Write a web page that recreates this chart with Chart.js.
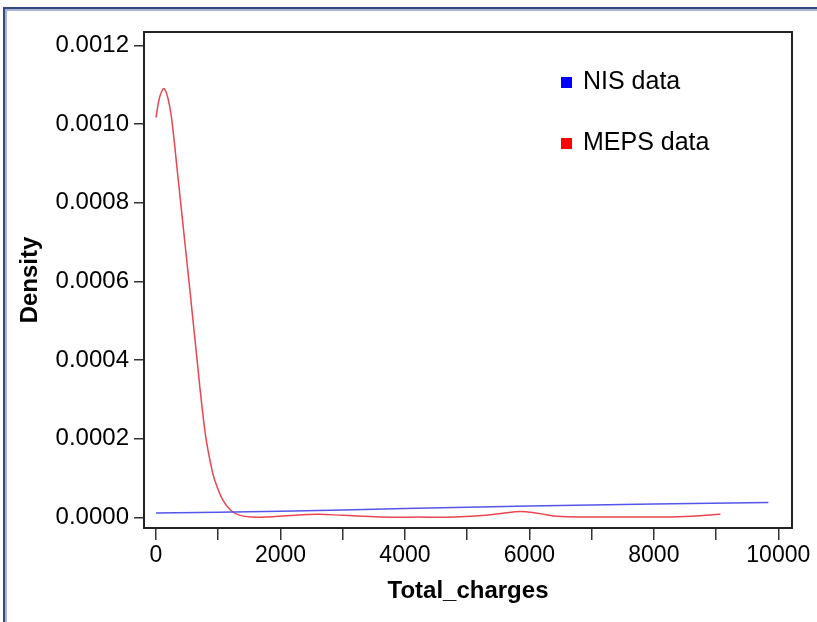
<!DOCTYPE html>
<html>
<head>
<meta charset="utf-8">
<script src="https://cdn.jsdelivr.net/npm/chart.js@4/dist/chart.umd.min.js"></script>
<style>
  html, body { margin: 0; padding: 0; background: #fff; }
  #wrap { position: relative; width: 817px; height: 622px; overflow: hidden; }
  #frame { position: absolute; left: 3px; top: 7px; width: 830px; height: 640px;
           border-top: 2px solid #34497f; border-left: 2px solid #34497f; }
  #frame2 { position: absolute; left: 0; top: 0; right: 0; bottom: 0;
            border-top: 2px solid #a7b4d2; border-left: 2px solid #a7b4d2; }
  #chart { position: absolute; left: 0; top: 0; }
</style>
</head>
<body>
<div id="wrap">
  <div id="frame"><div id="frame2"></div></div>
  <canvas id="chart" width="817" height="622"></canvas>
</div>
<script>
// данные
const nisX = [0, 2000, 4000, 6000, 8000, 9840];
const nisY = [0.0000110, 0.0000153, 0.0000222, 0.0000288, 0.0000339, 0.0000375];

const mepsX = [0, 60, 133, 220, 280, 333, 400, 455, 520, 574, 654, 719, 799, 880, 949, 1077,
               1200, 1350, 1550, 1800, 2100, 2600, 3000, 3600, 4200, 4800, 5300, 5600, 5850,
               6100, 6450, 7000, 7600, 8150, 8600, 9070];
const mepsY = [0.001017, 0.001070, 0.001090, 0.001045, 0.000975, 0.000895, 0.000795, 0.000712,
               0.000615, 0.000532, 0.000410, 0.000310, 0.000205, 0.000135, 0.000092, 0.000043,
               0.000018, 0.000005, 0.0000005, 0.000001, 0.000004, 0.0000075, 0.000005,
               0.000001, 0.0000005, 0.000001, 0.000005, 0.000011, 0.0000145, 0.000011,
               0.0000025, 0.000001, 0.0000005, 0.000001, 0.000003, 0.0000075];

const xTicks = [0, 1000, 2000, 3000, 4000, 5000, 6000, 7000, 8000, 9000, 10000];
const yTicks = [0, 0.0002, 0.0004, 0.0006, 0.0008, 0.0010, 0.0012];

const seriesNames = ["NIS data", "MEPS data"];
const legendColors = ["#0000ff", "#ff0000"];

function toPoints(xs, ys) {
  return xs.map((x, i) => ({ x: x, y: ys[i] }));
}

// рамка графика и легенда внутри области
const boxAndLegend = {
  id: "boxAndLegend",
  afterDraw(chart) {
    const { ctx, chartArea } = chart;
    ctx.save();
    ctx.strokeStyle = "#222";
    ctx.lineWidth = 2;
    ctx.strokeRect(chartArea.left, chartArea.top,
                   chartArea.right - chartArea.left, chartArea.bottom - chartArea.top);

    ctx.font = "25px 'Liberation Sans', Arial, sans-serif";
    ctx.textBaseline = "alphabetic";
    ctx.textAlign = "left";
    seriesNames.forEach((name, i) => {
      ctx.fillStyle = legendColors[i];
      ctx.fillRect(561, 77 + 61 * i, 11, 11);
      ctx.fillStyle = "#000";
      ctx.fillText(name, 583, 89 + 61 * i);
    });
    ctx.restore();
  }
};

new Chart(document.getElementById("chart"), {
  type: "line",
  data: {
    datasets: [
      {
        label: seriesNames[0],
        data: toPoints(nisX, nisY),
        borderColor: "rgb(85,85,235)",
        borderWidth: 1.5,
        pointRadius: 0,
        tension: 0.3,
        fill: false
      },
      {
        label: seriesNames[1],
        data: toPoints(mepsX, mepsY),
        borderColor: "rgb(232,70,80)",
        borderWidth: 1.5,
        pointRadius: 0,
        tension: 0.4,
        fill: false
      }
    ]
  },
  options: {
    responsive: false,
    animation: false,
    devicePixelRatio: 1,
    layout: { padding: { left: 0, top: 32, right: 25, bottom: 0 } },
    plugins: {
      legend: { display: false },
      tooltip: { enabled: false }
    },
    scales: {
      x: {
        type: "linear",
        min: -193,
        max: 10220,
        afterBuildTicks: (scale) => { scale.ticks = xTicks.map(v => ({ value: v })); },
        afterFit: (scale) => { scale.height = 94; },
        border: { display: false },
        grid: { drawOnChartArea: false, drawTicks: true, tickLength: 12, color: "#333", lineWidth: 1.5 },
        ticks: {
          autoSkip: false,
          maxRotation: 0,
          padding: 2,
          color: "#000",
          font: { family: "'Liberation Sans', Arial, sans-serif", size: 23 },
          callback: (v) => (v % 2000 === 0 ? String(v) : "")
        },
        title: {
          display: true,
          text: "Total_charges",
          color: "#000",
          padding: { top: 0, bottom: 16 },
          font: { family: "'Liberation Sans', Arial, sans-serif", size: 24, weight: "bold" }
        }
      },
      y: {
        type: "linear",
        min: -0.0000272,
        max: 0.0012346,
        afterBuildTicks: (scale) => { scale.ticks = yTicks.map(v => ({ value: v })); },
        afterFit: (scale) => { scale.width = 144; },
        border: { display: false },
        grid: { drawOnChartArea: false, drawTicks: true, tickLength: 10, color: "#333", lineWidth: 1.5 },
        ticks: {
          autoSkip: false,
          padding: 5,
          color: "#000",
          font: { family: "'Liberation Sans', Arial, sans-serif", size: 24 },
          callback: (v) => v.toFixed(4)
        },
        title: {
          display: true,
          text: "Density",
          color: "#000",
          padding: { top: 16, bottom: 0 },
          font: { family: "'Liberation Sans', Arial, sans-serif", size: 24, weight: "bold" }
        }
      }
    }
  },
  plugins: [boxAndLegend]
});
</script>
</body>
</html>
